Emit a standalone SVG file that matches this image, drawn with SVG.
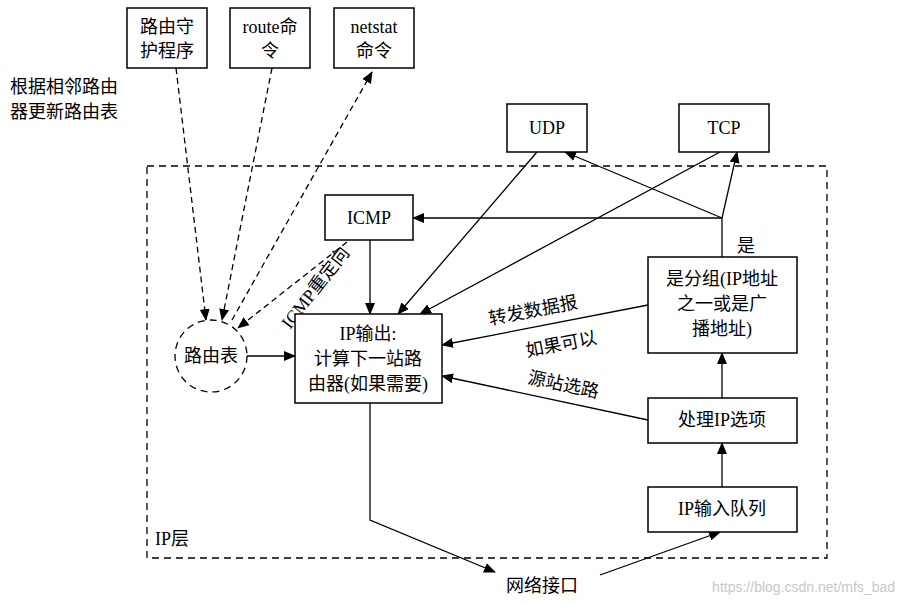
<svg xmlns="http://www.w3.org/2000/svg" width="903" height="605" viewBox="0 0 903 605">
<defs><marker id="a" markerWidth="12" markerHeight="10" refX="11" refY="5" orient="auto" markerUnits="userSpaceOnUse"><path d="M0,0L12,5L0,10z" fill="#000"/></marker></defs>
<style>
text{font-family:"Liberation Serif","Noto Sans CJK SC",serif;font-size:18px;fill:#000}
.b{fill:#fff;stroke:#000;stroke-width:1.5}
.l{stroke:#000;stroke-width:1.3;fill:none;marker-end:url(#a)}
.d{stroke-dasharray:6,4}
</style>
<rect width="903" height="605" fill="#fff"/>
<rect x="147" y="166" width="680" height="392" fill="none" stroke="#000" stroke-width="1.3" stroke-dasharray="7,5"/>
<text x="155" y="545">IP层</text>
<text x="10" y="93">根据相邻路由</text>
<text x="10" y="118">器更新路由表</text>
<g id="connectors">
<path class="l d" d="M176,68L206,320"/>
<path class="l d" d="M272,68L222,320"/>
<path class="l d" d="M232,320L372,72"/>
<path class="l d" d="M347,242L238,328"/>
<path class="l" d="M370,240V314"/>
<path class="l" d="M537,152L398,314"/>
<path class="l" d="M720,152L420,314"/>
<path class="l" d="M722,257V218L737,152"/>
<path class="l" d="M722,218L565,152"/>
<path class="l" d="M722,218H413"/>
<path class="l" d="M648,305L442,345"/>
<path class="l" d="M648,420L442,376"/>
<path class="l" d="M722,398V353"/>
<path class="l" d="M722,487V443"/>
<path class="l" d="M370,403V520L495,572"/>
<path class="l" d="M600,575L720,532"/>
</g>
<text x="737" y="252">是</text>
<text transform="translate(490,325) rotate(-11)">转发数据报</text>
<text transform="translate(527,357) rotate(-11)">如果可以</text>
<text transform="translate(527,383) rotate(12)">源站选路</text>
<text transform="translate(290,330) rotate(-52)">ICMP重定向</text>
<g id="n1"><rect class="b" x="127" y="8" width="80" height="60"/><text x="167" y="33" text-anchor="middle">路由守</text><text x="167" y="57" text-anchor="middle">护程序</text></g>
<g id="n2"><rect class="b" x="230" y="8" width="80" height="60"/><text x="270" y="33" text-anchor="middle">route命</text><text x="270" y="57" text-anchor="middle">令</text></g>
<g id="n3"><rect class="b" x="334" y="8" width="80" height="60"/><text x="374" y="33" text-anchor="middle">netstat</text><text x="374" y="57" text-anchor="middle">命令</text></g>
<g id="udp"><rect class="b" x="507" y="104" width="80" height="48"/><text x="547" y="134" text-anchor="middle">UDP</text></g>
<g id="tcp"><rect class="b" x="679" y="104" width="90" height="48"/><text x="724" y="134" text-anchor="middle">TCP</text></g>
<g id="icmp"><rect class="b" x="325" y="195" width="88" height="45"/><text x="369" y="224" text-anchor="middle">ICMP</text></g>
<g id="ipout"><rect class="b" x="295" y="314" width="147" height="89"/><text x="368" y="340" text-anchor="middle">IP输出:</text><text x="368" y="365" text-anchor="middle">计算下一站路</text><text x="368" y="390" text-anchor="middle">由器(如果需要)</text></g>
<g id="rt"><circle cx="211" cy="356" r="36" fill="#fff" stroke="#000" stroke-width="1.3" stroke-dasharray="7,5"/><text x="211" y="362" text-anchor="middle">路由表</text></g>
<path class="l" d="M247,356H295"/>
<g id="grp"><rect class="b" x="648" y="257" width="149" height="96"/><text x="722" y="285" text-anchor="middle">是分组(IP地址</text><text x="722" y="310" text-anchor="middle">之一或是广</text><text x="722" y="335" text-anchor="middle">播地址)</text></g>
<g id="opt"><rect class="b" x="648" y="398" width="149" height="45"/><text x="722" y="426" text-anchor="middle">处理IP选项</text></g>
<g id="inq"><rect class="b" x="648" y="487" width="149" height="45"/><text x="722" y="515" text-anchor="middle">IP输入队列</text></g>
<g id="net"><text x="542" y="592" text-anchor="middle">网络接口</text></g>
<text x="895" y="592" text-anchor="end" style="font-family:'Liberation Sans',sans-serif;font-size:14px;fill:#c8c8c8">https://blog.csdn.net/mfs_bad</text>
</svg>
